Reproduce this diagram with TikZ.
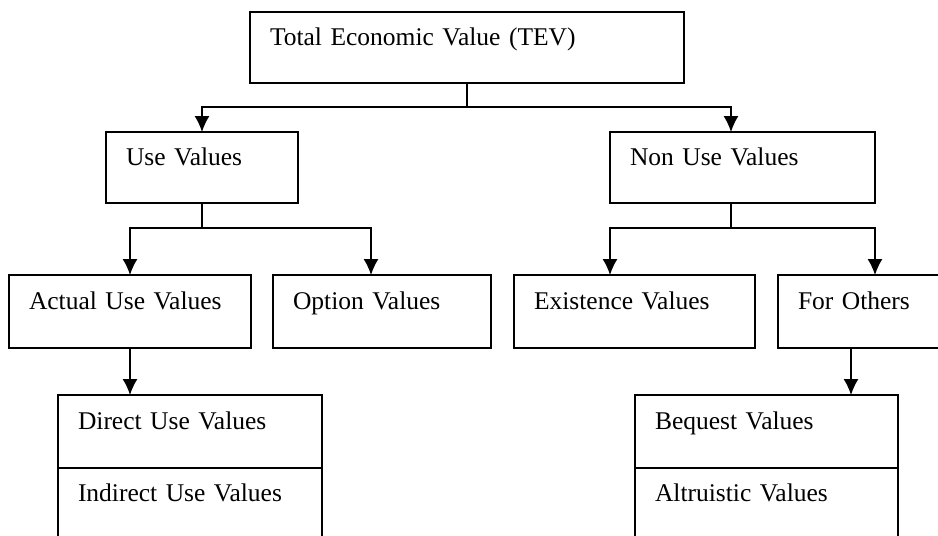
\documentclass[tikz,border=0pt]{standalone}
\usepackage{fontspec}
\setmainfont[WordSpace=0.8]{Liberation Serif}
\usetikzlibrary{arrows.meta, positioning}

\begin{document}
\begin{tikzpicture}[x=1pt,y=-1pt,
    font=\fontsize{25.5}{30}\selectfont,
    box/.style={draw, line width=1.4pt, anchor=north west, align=left,
      inner xsep=20pt, inner ysep=0pt, outer sep=0pt, text width=#1,
      text height=33pt, text depth=38pt},
    tall/.style={text height=34pt, text depth=39pt},
    arr/.style={line width=1.4pt, -{Latex[length=16pt,width=15pt]}},
    link/.style={line width=1.4pt}]
  \clip (0,0) rectangle (938,536);

  % top level
  \node[box=394] (tev) at (250,12) {Total Economic Value (TEV)};

  % second level
  \node[box=152] (use)    at (106,132) {Use Values};
  \node[box=225] (nonuse) at (610,132) {Non Use Values};

  % third level
  \node[box=202,tall] (actual) at (9,275)   {Actual Use Values};
  \node[box=178,tall] (option) at (273,275) {Option Values};
  \node[box=201,tall] (exist)  at (514,275) {Existence Values};
  \node[box=172,tall] (others) at (778,275) {For Others};

  % split boxes at the bottom
  \node[box=224,tall] (direct)   at (58,395) {Direct Use Values};
  \node[box=224,text depth=60pt,below=0pt of direct] (indirect) {Indirect Use Values};
  \node[box=223,tall] (bequest)  at (635,395) {Bequest Values};
  \node[box=223,text depth=60pt,below=0pt of bequest] (altru) {Altruistic Values};

  % connectors
  \coordinate (jtop) at (0,107);
  \coordinate (jmid) at (0,228);
  \draw[link] (tev.south) -- (tev.south |- jtop);
  \draw[arr] (tev.south |- jtop) -| (use.north);
  \draw[arr] (tev.south |- jtop) -| ([xshift=-11.5pt]nonuse.north);

  \draw[link] (use.south) -- (use.south |- jmid);
  \draw[arr] (use.south |- jmid) -| (actual.north);
  \draw[arr] (use.south |- jmid) -| ([xshift=-11pt]option.north);

  \draw[link] ([xshift=-11.5pt]nonuse.south) -- ([xshift=-11.5pt]nonuse.south |- jmid);
  \draw[arr] ([xshift=-11.5pt]nonuse.south |- jmid) -| ([xshift=-24.5pt]exist.north);
  \draw[arr] ([xshift=-11.5pt]nonuse.south |- jmid) -| ([xshift=-9pt]others.north);

  \draw[arr] (actual.south) -- (actual.south |- direct.north);
  \draw[arr] ([xshift=-33pt]others.south) -- ([xshift=-33pt]others.south |- bequest.north);
\end{tikzpicture}
\end{document}
